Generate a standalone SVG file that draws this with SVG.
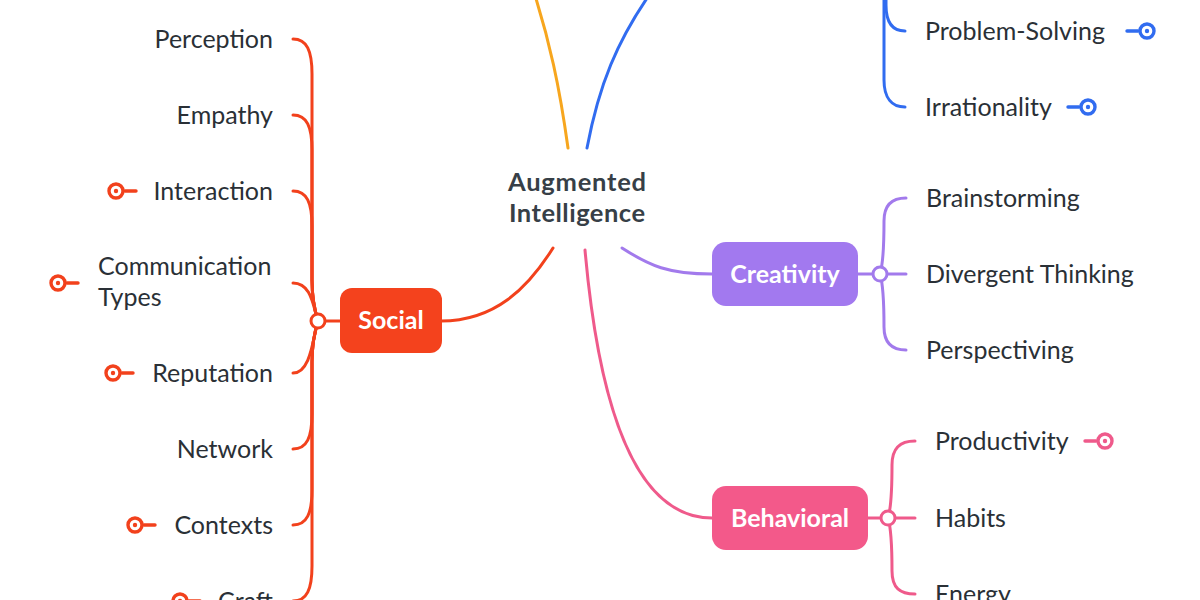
<svg xmlns="http://www.w3.org/2000/svg" width="1200" height="600" viewBox="0 0 1200 600">
<defs>
<style>
.t{font-family:Lato,"Noto Sans",sans-serif;font-size:25px;fill:#2a3036}
.r{text-anchor:end}
.b{font-family:Lato,"Noto Sans",sans-serif;font-weight:bold;font-size:25px;fill:#ffffff;text-anchor:middle}
.c{font-family:Lato,"Noto Sans",sans-serif;font-weight:bold;font-size:25.5px;fill:#373f47;text-anchor:middle}
.ln{fill:none;stroke-width:3;stroke-linecap:round}
.jn{fill:#ffffff;stroke-width:3}
</style>
<g id="iconL" fill="none" stroke="currentColor" stroke-width="3.4" stroke-linecap="round">
<circle cx="0" cy="0" r="7" fill="#ffffff"/>
<circle cx="0" cy="0" r="2.2" fill="currentColor" stroke="none"/>
<line x1="9" y1="0" x2="20" y2="0"/>
</g>
<g id="iconR" fill="none" stroke="currentColor" stroke-width="3.4" stroke-linecap="round">
<circle cx="0" cy="0" r="7" fill="#ffffff"/>
<circle cx="0" cy="0" r="2.2" fill="currentColor" stroke="none"/>
<line x1="-9" y1="0" x2="-20" y2="0"/>
</g>
</defs>
<rect width="1200" height="600" fill="#ffffff"/>

<g id="connectors">
<!-- main branches -->
<path class="ln" stroke="#f7a61e" d="M568,148 C560,90 550,40 530,-20"/>
<path class="ln" stroke="#316cf0" d="M587,148 C598,90 615,40 660,-20"/>
<path class="ln" stroke="#a27aec" d="M622,248 C650,266 668,274 712,274"/>
<path class="ln" stroke="#f2411c" d="M553,248 C528,288 495,321 441,321"/>
<path class="ln" stroke="#ef5a8b" d="M585,250 C600,420 640,518 712,518"/>
<!-- social children -->
<g stroke="#f2411c">
<path class="ln" d="M318,321 L340,321"/>
<path class="ln" d="M318,321 C313,305 312,295 312,280 L312,74 C312,51 307,39 293,39"/>
<path class="ln" d="M318,321 C313,305 312,295 312,280 L312,150 C312,127 307,115 293,115"/>
<path class="ln" d="M318,321 C313,305 312,295 312,280 L312,226 C312,203 307,191 293,191"/>
<path class="ln" d="M318,321 C313,305 311,283 293,283"/>
<path class="ln" d="M318,321 C313,337 311,373 293,373"/>
<path class="ln" d="M318,321 C313,337 312,347 312,362 L312,414 C312,437 307,449 293,449"/>
<path class="ln" d="M318,321 C313,337 312,347 312,362 L312,490 C312,513 307,525 293,525"/>
<path class="ln" d="M318,321 C313,337 312,347 312,362 L312,566 C312,589 307,601 293,601"/>
</g>
<!-- cognitive (blue) children -->
<g stroke="#316cf0">
<path class="ln" d="M905,31 C892,31 886,22 886,5 L886,-20"/>
<path class="ln" d="M905,107 C892,107 884,98 884,80 L884,-20"/>
</g>
<!-- creativity children -->
<g stroke="#a27aec">
<path class="ln" d="M858,274 L906,274"/>
<path class="ln" d="M880,274 C884,261 884,226 884,221 C884,205 892,198 906,198"/>
<path class="ln" d="M880,274 C884,287 884,322 884,327 C884,343 892,350 906,350"/>
</g>
<!-- behavioral children -->
<g stroke="#ef5a8b">
<path class="ln" d="M868,518 L915,518"/>
<path class="ln" d="M888,518 C892,505 892,470 892,465 C892,448 900,441 915,441"/>
<path class="ln" d="M888,518 C892,531 892,566 892,571 C892,588 900,594 915,594"/>
</g>
</g>

<g id="center">
<text class="c" x="577" y="191" textLength="138">Augmented</text>
<text class="c" x="577" y="222" textLength="136">Intelligence</text>
</g>

<g id="social">
<rect x="340" y="288" width="102" height="65" rx="12" fill="#f4421d"/>
<text class="b" x="391" y="329">Social</text>
<circle class="jn" cx="318" cy="321" r="7" stroke="#f2411c"/>
</g>
<g id="creativity">
<rect x="712" y="242" width="146" height="64" rx="14" fill="#a279ef"/>
<text class="b" x="785" y="283">Creativity</text>
<circle class="jn" cx="880" cy="274" r="7" stroke="#a27aec"/>
</g>
<g id="behavioral">
<rect x="712" y="486" width="156" height="64" rx="14" fill="#f3598a"/>
<text class="b" x="790" y="527">Behavioral</text>
<circle class="jn" cx="888" cy="518" r="7" stroke="#ef5a8b"/>
</g>

<g id="n-perception"><text class="t r" x="273" y="48">Perception</text></g>
<g id="n-empathy"><text class="t r" x="273" y="124">Empathy</text></g>
<g id="n-interaction"><text class="t r" x="273" y="200">Interaction</text><use href="#iconL" x="116" y="191" color="#f2411c"/></g>
<g id="n-communication"><text class="t" x="98" y="275">Communication</text><text class="t" x="98" y="306">Types</text><use href="#iconL" x="58" y="283" color="#f2411c"/></g>
<g id="n-reputation"><text class="t r" x="273" y="382">Reputation</text><use href="#iconL" x="113" y="373" color="#f2411c"/></g>
<g id="n-network"><text class="t r" x="273" y="458">Network</text></g>
<g id="n-contexts"><text class="t r" x="273" y="534">Contexts</text><use href="#iconL" x="135" y="525" color="#f2411c"/></g>
<g id="n-craft"><text class="t r" x="273" y="610">Craft</text><use href="#iconL" x="180" y="601" color="#f2411c"/></g>

<g id="n-problem"><text class="t" x="925" y="40">Problem-Solving</text><use href="#iconR" x="1147" y="31" color="#316cf0"/></g>
<g id="n-irrationality"><text class="t" x="925" y="116">Irrationality</text><use href="#iconR" x="1088" y="107" color="#316cf0"/></g>

<g id="n-brainstorming"><text class="t" x="926" y="207">Brainstorming</text></g>
<g id="n-divergent"><text class="t" x="926" y="283">Divergent Thinking</text></g>
<g id="n-perspectiving"><text class="t" x="926" y="359">Perspectiving</text></g>

<g id="n-productivity"><text class="t" x="935" y="450">Productivity</text><use href="#iconR" x="1105" y="441" color="#ef5a8b"/></g>
<g id="n-habits"><text class="t" x="935" y="527">Habits</text></g>
<g id="n-energy"><text class="t" x="935" y="603">Energy</text></g>
</svg>
